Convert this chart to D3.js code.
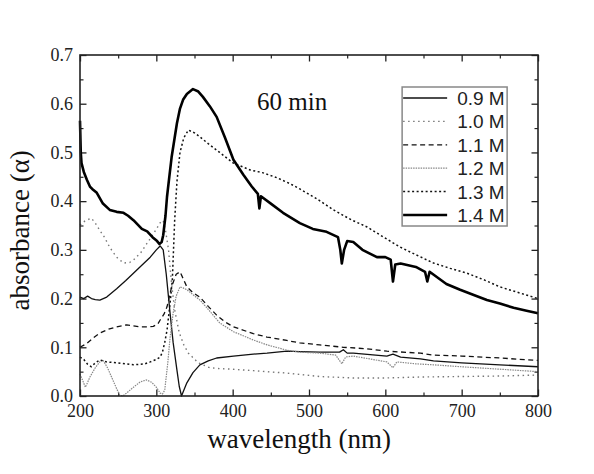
<!DOCTYPE html>
<html>
<head>
<meta charset="utf-8">
<script src="https://cdn.jsdelivr.net/npm/d3@7"></script>
<style>
  body { margin: 0; background: #fff; }
  svg { display: block; }
  text.serif, .tick text { font-family: "Liberation Serif", "Times New Roman", "DejaVu Serif", serif; }
  text.sans { font-family: "Liberation Sans", Arial, sans-serif; }
</style>
</head>
<body>
<div id="chart"></div>
<script>
// absorbance spectra after 60 min, one array per concentration: [wavelength nm, absorbance]
var conc09 = [[200,0.203],[205,0.2],[210,0.205],[215,0.2],[220,0.198],[226,0.197],[235,0.203],[248,0.22],[260,0.237],[270,0.252],[282,0.27],[292,0.285],[300,0.3],[305,0.308],[309,0.3],[313,0.25],[318,0.17],[322,0.11],[327,0.053],[330,0.02],[333,0.0],[336,0.012],[340,0.027],[348,0.048],[357,0.064],[368,0.072],[379,0.078],[401,0.082],[427,0.086],[445,0.088],[471,0.092],[488,0.091],[514,0.09],[540,0.09],[545,0.095],[550,0.088],[558,0.088],[580,0.085],[602,0.082],[610,0.086],[620,0.08],[646,0.076],[663,0.072],[700,0.068],[750,0.064],[800,0.06]];
var conc10 = [[200,0.351],[207,0.36],[215,0.365],[220,0.355],[226,0.34],[232,0.326],[239,0.305],[248,0.285],[257,0.273],[265,0.274],[270,0.279],[280,0.295],[288,0.314],[295,0.33],[301,0.345],[306,0.358],[309,0.36],[312,0.34],[316,0.3],[320,0.23],[324,0.177],[330,0.13],[336,0.105],[342,0.088],[355,0.068],[370,0.058],[385,0.056],[400,0.055],[427,0.052],[471,0.047],[514,0.04],[558,0.037],[600,0.037],[646,0.039],[700,0.04],[750,0.041],[800,0.043]];
var conc11 = [[200,0.1],[209,0.108],[218,0.12],[226,0.129],[237,0.137],[248,0.142],[261,0.146],[270,0.144],[278,0.142],[288,0.142],[296,0.143],[302,0.148],[305,0.156],[310,0.168],[314,0.183],[320,0.224],[326,0.25],[331,0.255],[336,0.238],[340,0.224],[348,0.212],[357,0.203],[368,0.184],[379,0.166],[390,0.152],[401,0.142],[427,0.128],[445,0.121],[471,0.114],[488,0.109],[514,0.105],[545,0.1],[576,0.097],[602,0.092],[646,0.088],[663,0.084],[700,0.082],[750,0.078],[800,0.073]];
var conc12 = [[200,0.045],[204,0.03],[207,0.018],[210,0.028],[213,0.039],[220,0.058],[226,0.07],[230,0.074],[236,0.058],[243,0.033],[248,0.015],[252,0.002],[256,0.0],[261,0.006],[270,0.018],[279,0.029],[287,0.033],[294,0.028],[300,0.018],[305,0.006],[308,0.004],[311,0.012],[315,0.068],[318,0.12],[322,0.17],[326,0.205],[331,0.224],[335,0.222],[340,0.218],[348,0.208],[357,0.197],[368,0.178],[383,0.15],[401,0.132],[427,0.115],[445,0.105],[471,0.094],[488,0.09],[514,0.088],[535,0.084],[543,0.066],[548,0.08],[558,0.082],[580,0.076],[602,0.07],[610,0.058],[615,0.07],[640,0.066],[663,0.064],[700,0.06],[750,0.055],[800,0.05]];
var conc13 = [[200,0.08],[205,0.075],[210,0.065],[215,0.06],[220,0.068],[226,0.074],[235,0.07],[250,0.068],[270,0.064],[285,0.066],[292,0.07],[300,0.075],[305,0.08],[308,0.09],[311,0.11],[314,0.135],[318,0.19],[321,0.24],[324,0.36],[327,0.44],[331,0.5],[336,0.53],[342,0.546],[350,0.54],[357,0.532],[368,0.518],[383,0.5],[401,0.478],[423,0.464],[440,0.458],[458,0.448],[475,0.436],[488,0.425],[510,0.405],[532,0.382],[555,0.362],[576,0.347],[600,0.324],[619,0.306],[640,0.29],[663,0.273],[685,0.262],[707,0.252],[730,0.238],[750,0.224],[775,0.212],[800,0.2]];
var conc14 = [[200,0.565],[201,0.5],[202,0.478],[205,0.46],[209,0.444],[213,0.43],[216,0.425],[222,0.417],[230,0.395],[239,0.382],[248,0.378],[257,0.376],[263,0.37],[270,0.361],[281,0.343],[288,0.338],[295,0.326],[301,0.318],[304,0.312],[307,0.316],[309,0.33],[312,0.37],[314,0.409],[317,0.45],[320,0.49],[324,0.53],[327,0.56],[331,0.59],[335,0.608],[340,0.62],[348,0.63],[355,0.625],[361,0.614],[370,0.595],[379,0.573],[390,0.53],[401,0.485],[414,0.454],[425,0.43],[433,0.415],[435,0.385],[437,0.41],[450,0.395],[466,0.376],[488,0.355],[505,0.343],[523,0.337],[538,0.326],[541,0.3],[543,0.272],[546,0.3],[550,0.318],[558,0.316],[570,0.3],[589,0.285],[600,0.285],[607,0.28],[610,0.235],[613,0.27],[620,0.272],[640,0.265],[652,0.255],[655,0.235],[658,0.255],[680,0.23],[698,0.218],[715,0.208],[733,0.197],[750,0.19],[768,0.181],[785,0.175],[800,0.17]];

var seriesLabels = ["0.9 M", "1.0 M", "1.1 M", "1.2 M", "1.3 M", "1.4 M"];
var xTicks = [200, 300, 400, 500, 600, 700, 800];
var yTicks = [0.0, 0.1, 0.2, 0.3, 0.4, 0.5, 0.6, 0.7];

var svgWidth = 594;
var svgHeight = 474;
var margin = { top: 55, right: 56, bottom: 78, left: 80 };
var width = svgWidth - margin.left - margin.right;
var height = svgHeight - margin.top - margin.bottom;

var serif = "'Liberation Serif', 'Times New Roman', 'DejaVu Serif', serif";
var sans = "'Liberation Sans', Arial, sans-serif";

// line look for each concentration, same order as the labels
var styles = [
  { color: "#111", w: 1.3, dash: null },
  { color: "#777", w: 1.4, dash: "1.5,3.5" },
  { color: "#111", w: 1.3, dash: "5,3.5" },
  { color: "#888", w: 1.2, dash: "1.5,1" },
  { color: "#111", w: 1.5, dash: "2,2.5" },
  { color: "#000", w: 2.6, dash: null }
];
var allSeries = [conc09, conc10, conc11, conc12, conc13, conc14];

var svg = d3.select("#chart").append("svg")
  .attr("width", svgWidth)
  .attr("height", svgHeight);

var chartGroup = svg.append("g")
  .attr("transform", `translate(${margin.left}, ${margin.top})`);

var xScale = d3.scaleLinear().domain([200, 800]).range([0, width]);
var yScale = d3.scaleLinear().domain([0, 0.7]).range([height, 0]);

// inward ticks on all four sides, minor ones in between
function tickAxis(axisFn, scale, majors, minors, transform, pad, fmt) {
  var g = chartGroup.append("g").attr("transform", transform);
  g.call(axisFn(scale).tickValues(minors).tickSize(-3.5).tickFormat(""));
  g.selectAll(".domain").remove();
  var gm = chartGroup.append("g").attr("transform", transform);
  gm.call(axisFn(scale).tickValues(majors).tickSize(-6.5).tickPadding(pad)
    .tickFormat(fmt || ""));
  gm.selectAll(".domain").remove();
  gm.attr("font-family", null).attr("font-size", null);
  g.selectAll("line").attr("stroke", "#222").attr("stroke-width", 1.2);
  gm.selectAll("line").attr("stroke", "#222").attr("stroke-width", 1.3);
  gm.selectAll("text")
    .attr("class", "serif")
    .style("font-family", serif)
    .style("font-size", "18px")
    .attr("fill", "#222");
  return gm;
}

var xMinor = [250, 350, 450, 550, 650, 750];
var yMinor = [0.05, 0.15, 0.25, 0.35, 0.45, 0.55, 0.65];

tickAxis(d3.axisBottom, xScale, xTicks, xMinor, `translate(0, ${height})`, 8, d3.format("d"));
tickAxis(d3.axisTop, xScale, xTicks, xMinor, "translate(0, 0)", 0);
tickAxis(d3.axisLeft, yScale, yTicks, yMinor, "translate(0, 0)", 7, d3.format(".1f"));
tickAxis(d3.axisRight, yScale, yTicks, yMinor, `translate(${width}, 0)`, 0);

// spectra
var line = d3.line()
  .x(d => xScale(d[0]))
  .y(d => yScale(d[1]));

chartGroup.append("g").selectAll("path")
  .data(allSeries)
  .enter()
  .append("path")
  .attr("d", d => line(d))
  .attr("fill", "none")
  .attr("stroke", (d, i) => styles[i].color)
  .attr("stroke-width", (d, i) => styles[i].w)
  .attr("stroke-dasharray", (d, i) => styles[i].dash)
  .attr("stroke-linejoin", "round");

// plot frame
chartGroup.append("rect")
  .attr("width", width)
  .attr("height", height)
  .attr("fill", "none")
  .attr("stroke", "#222")
  .attr("stroke-width", 1.6);

// "60 min" note
chartGroup.append("text")
  .attr("class", "serif")
  .attr("x", xScale(432))
  .attr("y", 55)
  .style("font-family", serif)
  .style("font-size", "25px")
  .attr("fill", "#111")
  .text("60 min");

// legend
var legend = chartGroup.append("g")
  .attr("transform", `translate(${xScale(622)}, 32)`);

legend.append("rect")
  .attr("width", 105)
  .attr("height", 139)
  .attr("fill", "#fff")
  .attr("stroke", "#888")
  .attr("stroke-width", 1.5);

var rows = legend.selectAll(".row")
  .data(seriesLabels)
  .enter()
  .append("g")
  .attr("transform", (d, i) => `translate(0, ${11 + i * 23.4})`);

rows.append("line")
  .attr("x1", 1)
  .attr("x2", 45)
  .attr("stroke", (d, i) => styles[i].color)
  .attr("stroke-width", (d, i) => styles[i].w)
  .attr("stroke-dasharray", (d, i) => styles[i].dash);

rows.append("text")
  .attr("class", "sans")
  .attr("x", 55)
  .attr("y", 7)
  .style("font-family", sans)
  .style("font-size", "19px")
  .attr("fill", "#222")
  .text(d => d);

// axis titles
svg.append("text")
  .attr("class", "serif")
  .attr("x", margin.left + xScale(487))
  .attr("y", 448)
  .attr("text-anchor", "middle")
  .style("font-family", serif)
  .style("font-size", "27px")
  .attr("fill", "#111")
  .text("wavelength (nm)");

svg.append("text")
  .attr("class", "serif")
  .attr("transform", `translate(29, ${margin.top + yScale(0.34)}) rotate(-90)`)
  .attr("text-anchor", "middle")
  .style("font-family", serif)
  .style("font-size", "27px")
  .attr("fill", "#111")
  .text("absorbance (α)");
</script>
</body>
</html>
